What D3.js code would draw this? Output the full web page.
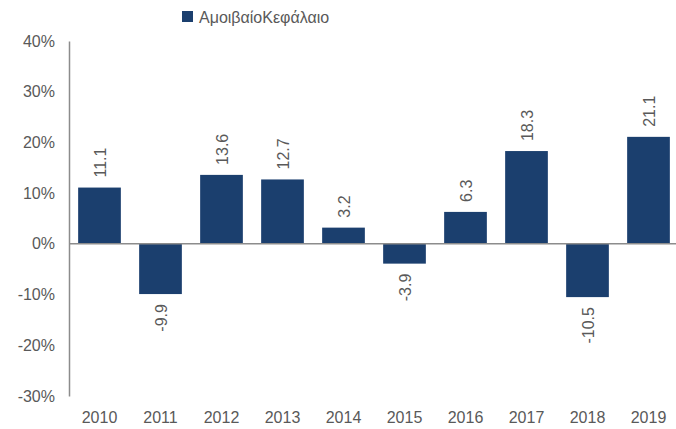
<!DOCTYPE html>
<html>
<head>
<meta charset="utf-8">
<script src="https://cdn.jsdelivr.net/npm/d3@7"></script>
<style>
  body { margin: 0; background: #fff; }
  text { font-family: "Liberation Sans", Arial, sans-serif; }
</style>
</head>
<body>
<div id="chart"></div>
<script>
// data
const years = ['2010', '2011', '2012', '2013', '2014', '2015', '2016', '2017', '2018', '2019'];
const returns = [11.1, -9.9, 13.6, 12.7, 3.2, -3.9, 6.3, 18.3, -10.5, 21.1];
const yTicks = [-30, -20, -10, 0, 10, 20, 30, 40];
const seriesName = 'ΑμοιβαίοΚεφάλαιο';

const width = 676, height = 429;
const margin = { top: 41, right: -3, bottom: 33, left: 69 };
const barColor = '#1b3f6e';
const textColor = '#595959';

const svg = d3.select('#chart').append('svg')
    .attr('width', width)
    .attr('height', height);

const x = d3.scaleBand()
    .domain(years)
    .range([margin.left, width - margin.right])
    .paddingInner(0.3)
    .paddingOuter(0.15);

const y = d3.scaleLinear()
    .domain([-30, 40])
    .range([height - margin.bottom, margin.top]);

// y axis
const yAxis = d3.axisLeft(y)
    .tickValues(yTicks)
    .tickSize(0)
    .tickPadding(14)
    .tickFormat(d => d + '%');

const yG = svg.append('g')
    .attr('transform', `translate(${margin.left},0)`)
    .call(yAxis);
yG.select('.domain').attr('stroke', '#8c8c8c').attr('stroke-width', 1.5);
yG.selectAll('text')
    .attr('fill', textColor)
    .style('font-size', '16px');

// bars
svg.append('g')
    .selectAll('rect')
    .data(returns)
    .join('rect')
    .attr('x', (d, i) => x(years[i]))
    .attr('width', x.bandwidth())
    .attr('y', d => y(Math.max(0, d)))
    .attr('height', d => Math.abs(y(d) - y(0)))
    .attr('fill', barColor);

// zero line
svg.append('line')
    .attr('x1', margin.left)
    .attr('x2', width)
    .attr('y1', y(0))
    .attr('y2', y(0))
    .attr('stroke', '#8c8c8c')
    .attr('stroke-width', 1.5);

// value labels, rotated
svg.append('g')
    .selectAll('text')
    .data(returns)
    .join('text')
    .attr('transform', (d, i) => {
        const cx = x(years[i]) + x.bandwidth() / 2 + 6;
        const cy = d >= 0 ? y(d) - 10 : y(d) + 10;
        return `translate(${cx},${cy}) rotate(-90)`;
    })
    .attr('text-anchor', d => d >= 0 ? 'start' : 'end')
    .attr('fill', textColor)
    .style('font-size', '16px')
    .text(d => d.toFixed(1));

// x labels
svg.append('g')
    .selectAll('text')
    .data(years)
    .join('text')
    .attr('x', d => x(d) + x.bandwidth() / 2)
    .attr('y', height - 6)
    .attr('text-anchor', 'middle')
    .attr('fill', textColor)
    .style('font-size', '16px')
    .text(d => d);

// legend
const legend = svg.append('g');
legend.append('rect')
    .attr('x', 182)
    .attr('y', 11)
    .attr('width', 11)
    .attr('height', 11)
    .attr('fill', barColor);
legend.append('text')
    .attr('x', 199)
    .attr('y', 23)
    .attr('fill', textColor)
    .style('font-size', '16px')
    .text(seriesName);
</script>
</body>
</html>
